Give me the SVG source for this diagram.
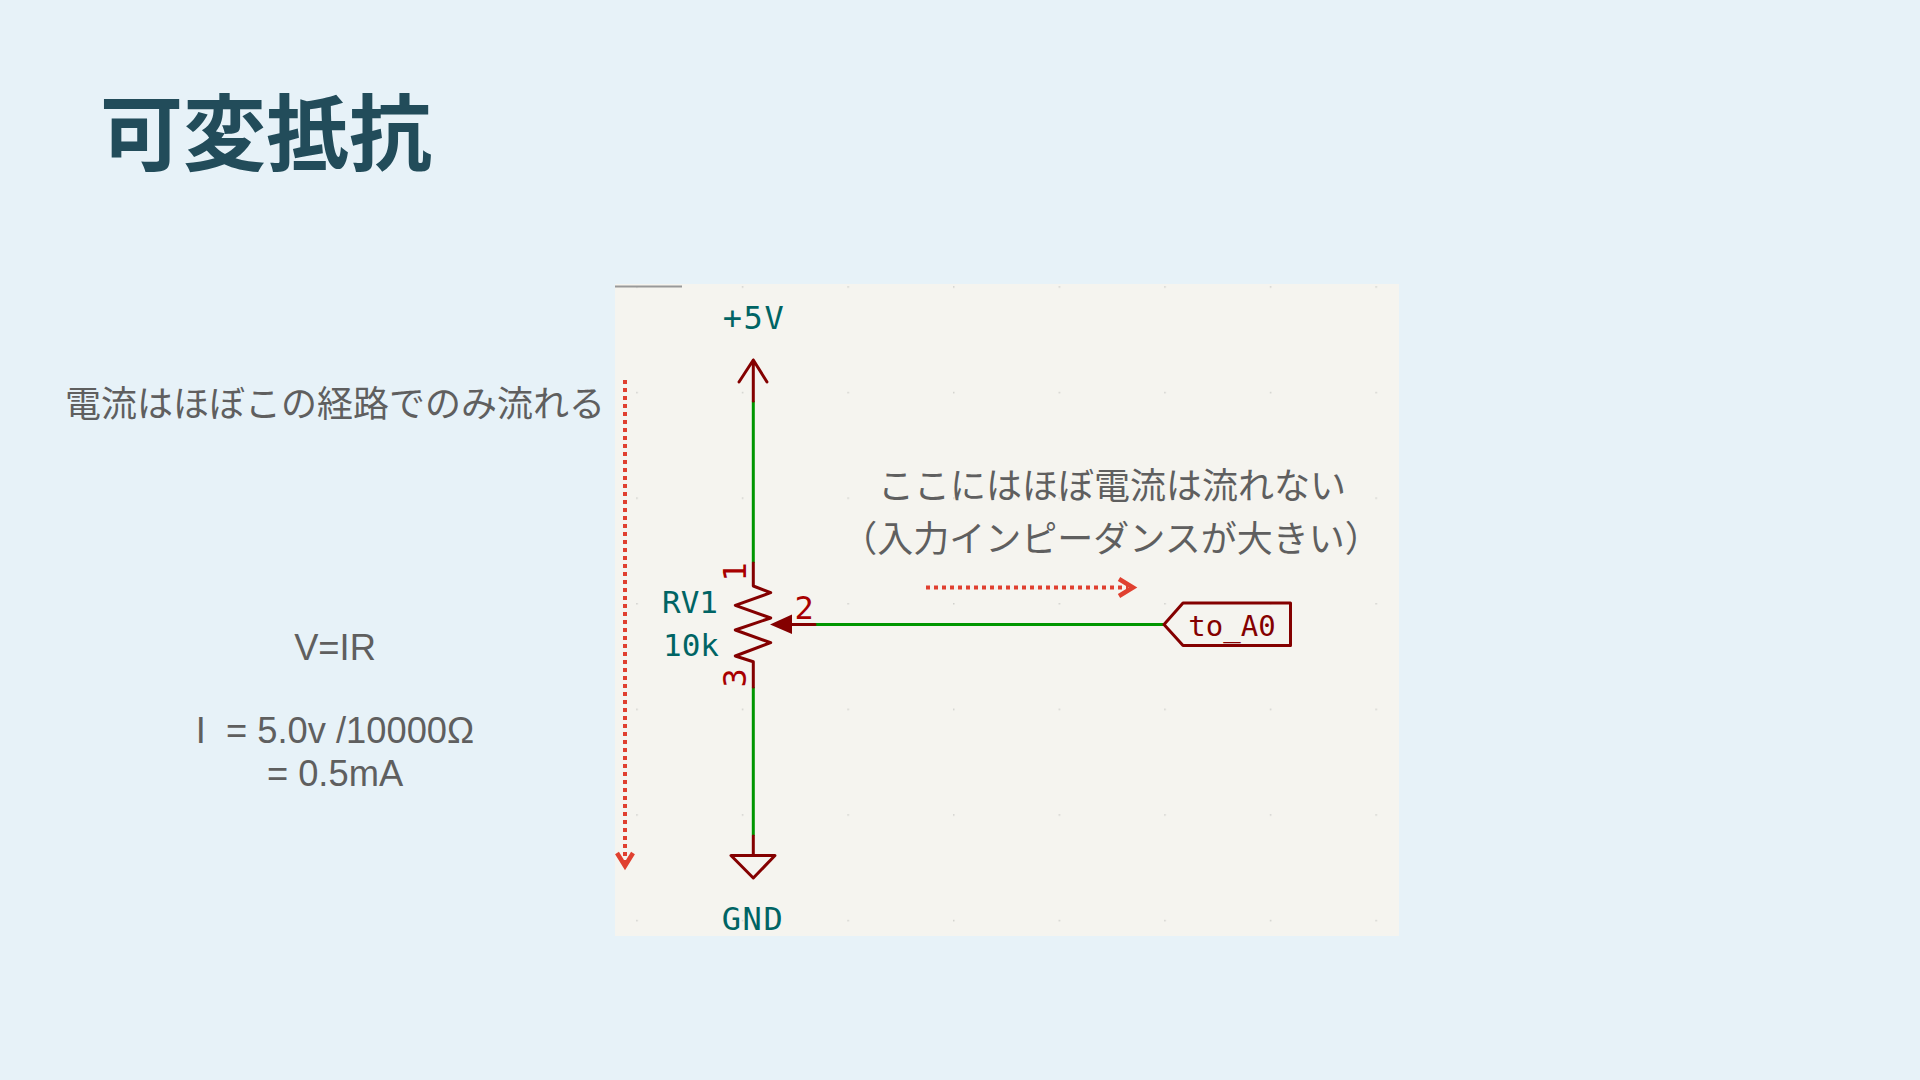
<svg xmlns="http://www.w3.org/2000/svg" width="1920" height="1080" viewBox="0 0 1920 1080">
<style>
.t{font-family:"Noto Sans CJK JP","Liberation Sans",sans-serif;fill:#5f5f5f;font-size:36px;text-anchor:middle}
.l{font-family:"Liberation Sans",Arial,sans-serif;fill:#5f5f5f;font-size:36.300px;text-anchor:middle}
.k{font-family:"DejaVu Sans Mono",monospace;font-size:32px;text-anchor:middle;letter-spacing:1.5px}
.teal{fill:#006464}.red{fill:#a80000}.dk{fill:#840000;letter-spacing:0;font-size:29px}
.n{letter-spacing:0;font-size:31px}
.w{stroke:#009600;stroke-width:3;fill:none}
.s{stroke:#840000;stroke-width:3;fill:none;stroke-linejoin:round;stroke-linecap:round}
.d{stroke:#e04030;stroke-width:4;fill:none;stroke-dasharray:4 4}
.h{stroke:#e04030;stroke-width:4.5;fill:none;stroke-linejoin:miter}
</style>
<defs><pattern id="grid" x="636.2" y="286.2" width="105.6" height="105.6" patternUnits="userSpaceOnUse"><rect width="1.5" height="1.5" fill="#d0d0cc"/></pattern></defs>
<rect width="1920" height="1080" fill="#e7f2f8"/>
<text x="100" y="164" font-family="Noto Sans CJK JP,sans-serif" font-weight="700" font-size="83" fill="#224c5a">可変抵抗</text>
<g id="panel"><rect x="615" y="284" width="784" height="652" fill="#f5f4ef"/><rect x="615" y="284" width="784" height="652" fill="url(#grid)"/><path d="M615 286.500H682" stroke="#999" stroke-width="2"/></g>
<g id="connectors">
<path class="w" d="M753.300 401V563M753.300 687V836M815 624.500H1164"/>
<path class="d" d="M625 380V866"/>
<path class="h" d="M617 853L625 866L633 853"/>
<path class="d" d="M926 587.500H1128"/>
<path class="h" d="M1119 579L1133 587.500L1119 596"/>
</g>
<g id="vcc"><path class="s" d="M753.300 401V360M739 382L753.300 360L767 382"/><text class="k teal" x="754" y="329">+5V</text></g>
<g id="gnd"><path class="s" d="M753.300 836V855.500M731 855.500H775L753.300 878Z"/><text class="k teal" x="753" y="930">GND</text></g>
<g id="rv1">
<path class="s" d="M753.300 563V586L770.700 592.700L735.300 605.300L770.700 618L735.300 630L770.700 642.700L735.300 656L753.300 661.700V687M792 624.500H815"/>
<path d="M770 624.500L792 614.500V634Z" fill="#840000"/>
<text class="k teal n" x="690" y="613">RV1</text><text class="k teal n" x="691" y="656">10k</text>
<text class="k red" x="805" y="619">2</text>
<text class="k red" transform="translate(746 571) rotate(-90)">1</text>
<text class="k red" transform="translate(746 677) rotate(-90)">3</text>
</g>
<g id="label"><path class="s" d="M1164 624.500L1183 603H1290.500V645.500H1183Z"/><text class="k dk" x="1232" y="636">to_A0</text></g>
<g id="notes">
<text class="t" x="335" y="416.500">電流はほぼこの経路でのみ流れる</text>
<text class="t" x="1112" y="498.500">ここにはほぼ電流は流れない</text>
<text class="t" x="1111" y="552">（入力インピーダンスが大きい）</text>
<text class="l" x="335" y="660">V=IR</text>
<text class="l" x="335" y="743" xml:space="preserve">I  = 5.0v /10000Ω</text>
<text class="l" x="335" y="786">= 0.5mA</text>
</g>
</svg>
